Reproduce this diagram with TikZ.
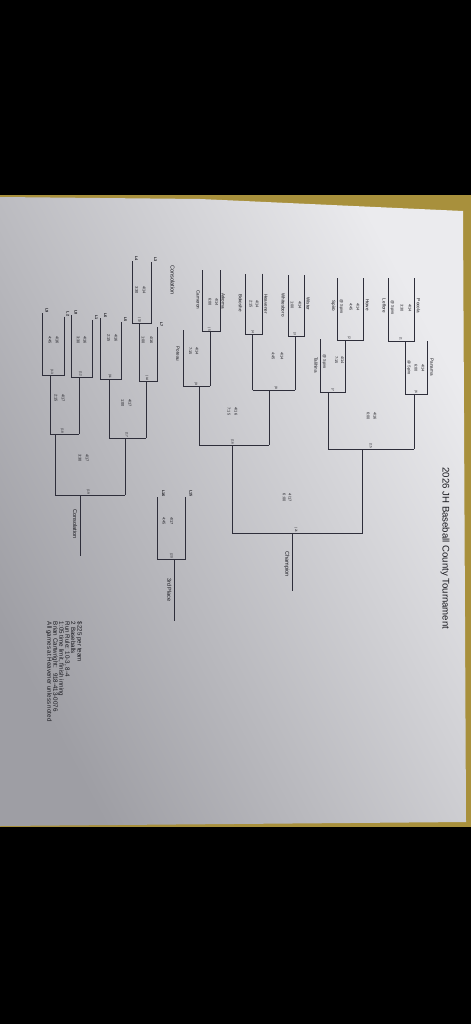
\documentclass[tikz,border=0pt]{standalone}
\usepackage{fontspec}
\setmainfont{Liberation Sans}
\definecolor{linec}{HTML}{2E2E3A}
\definecolor{inkc}{HTML}{18181E}
\definecolor{tanc}{HTML}{A8903C}
\definecolor{paperhi}{HTML}{EBEBEE}
\definecolor{papermid}{HTML}{DADADE}
\definecolor{paperlo}{HTML}{9E9EA4}
\begin{document}
\begin{tikzpicture}[x=1pt,y=-1pt,
  brk/.style={draw=linec, line width=0.85pt},
  team/.style={rotate=-90, inner sep=0pt, text=inkc, font=\fontsize{4.6}{5}\selectfont},
  info/.style={rotate=-90, inner sep=0pt, text=inkc, font=\fontsize{3.9}{4.5}\selectfont},
  gno/.style={rotate=-90, inner sep=0pt, anchor=east, text=inkc, font=\fontsize{3.2}{4}\selectfont},
  lab/.style={rotate=-90, inner sep=0pt, anchor=east, text=inkc, font=\bfseries\fontsize{3.8}{4.5}\selectfont},
  head/.style={rotate=-90, inner sep=0pt, text=inkc, font=\fontsize{5.6}{6}\selectfont},
  note/.style={rotate=-90, inner sep=0pt, anchor=west, text=inkc, font=\fontsize{6.2}{6.5}\selectfont}]
\useasboundingbox (0,0) rectangle (471,1024);
% background and paper
\fill[black] (0,0) rectangle (471,1024);
\fill[tanc] (0,195) rectangle (471,827);
\shade[top color=paperhi, middle color=papermid, bottom color=paperlo, shading angle=-62]
  (0,197) -- (200,199) -- (463,211) -- (466,822) -- (0,826) -- cycle;

% title
\node[rotate=-90, inner sep=0pt, text=inkc, font=\fontsize{9.6}{11}\selectfont] (title) at (445,548.5) {2026 JH Baseball County Tournament};

% ---------- main bracket ----------
% G1
\coordinate (g1a) at (414.3,278); \coordinate (g1b) at (414.3,341);
\coordinate (g1c) at (388.3,341); \coordinate (g1d) at (388.3,278);
\draw[brk] (g1a) -- (g1b) -- (g1c) -- (g1d);
\coordinate (g1o) at (405,341); \coordinate (g6l) at (405,394.5);
\draw[brk] (g1o) -- (g6l);
\node[team] (pocola) at (418.5,306) {Pocola};
\node[info] (g1d1) at (410,308) {4/14};
\node[info] (g1t1) at (402,308) {3:30};
\node[info] (g1s) at (392.5,307.5) {@ Spiro};
\node[team] (leflore) at (384.3,306) {Leflore};
\node[gno] (n1) at (400.7,340.3) {(1};
% G6
\coordinate (g6t) at (427,341); \coordinate (g6r) at (427,394.5);
\draw[brk] (g6t) -- (g6r) -- (g6l);
\coordinate (g6o) at (414.3,394.5); \coordinate (g15r) at (414.3,449);
\draw[brk] (g6o) -- (g15r);
\node[team] (panama) at (432,367) {Panama};
\node[info] (g6d) at (423,368) {4/14};
\node[info] (g6t1) at (416,368) {6:00};
\node[info] (g6s) at (409,368) {@ Spiro};
\node[gno] (n6) at (416,393.8) {(6};
% G2
\coordinate (g2a) at (363.3,278); \coordinate (g2b) at (363.3,340);
\coordinate (g2c) at (337.3,340); \coordinate (g2d) at (337.3,278);
\draw[brk] (g2a) -- (g2b) -- (g2c) -- (g2d);
\coordinate (g2o) at (345.7,340); \coordinate (g7r) at (345.7,392.3);
\draw[brk] (g2o) -- (g7r);
\node[team] (howe) at (367.5,305) {Howe};
\node[info] (g2d1) at (358,307) {4/14};
\node[info] (g2t1) at (351,307) {4:45};
\node[info] (g2s) at (341.5,307) {@ Spiro};
\node[team] (spiro) at (333.3,306) {Spiro};
\node[gno] (n2) at (349.3,339.3) {(2};
% G7
\coordinate (g7t) at (320.7,339); \coordinate (g7l) at (320.7,392.3);
\draw[brk] (g7t) -- (g7l) -- (g7r);
\coordinate (g7o) at (328.3,392.3); \coordinate (g15l) at (328.3,449);
\draw[brk] (g7o) -- (g15l);
\node[info] (g7d) at (342.5,360) {4/14};
\node[info] (g7t1) at (336.5,360) {7:15};
\node[info] (g7s) at (324.5,362) {@ Spiro};
\node[team] (talihina) at (316,365) {Talihina};
\node[gno] (n7) at (332.7,391.6) {(7};
% G15
\draw[brk] (g15l) -- (g15r);
\coordinate (g15o) at (362.7,449); \coordinate (g21r) at (362.7,533.5);
\draw[brk] (g15o) -- (g21r);
\node[info] (g15d) at (375,416) {4/16};
\node[info] (g15t) at (368.3,416) {6:00};
\node[gno] (n15) at (370.7,448.3) {(15};
% G3
\coordinate (g3a) at (304,275); \coordinate (g3b) at (304,336);
\coordinate (g3c) at (288,336); \coordinate (g3d) at (288,275);
\draw[brk] (g3a) -- (g3b) -- (g3c) -- (g3d);
\coordinate (g3o) at (295.3,336); \coordinate (g8r) at (295.3,390.4);
\draw[brk] (g3o) -- (g8r);
\node[team] (wister) at (308.3,304) {Wister};
\node[info] (g3d1) at (300,305) {4/14};
\node[info] (g3t1) at (292.3,305) {1:00};
\node[team] (whitesboro) at (283.3,305) {Whitesboro};
\node[gno] (n3) at (294.7,335.3) {(3};
% G4
\coordinate (g4a) at (262.3,273.5); \coordinate (g4b) at (262.3,334.3);
\coordinate (g4c) at (245.5,334.3); \coordinate (g4d) at (245.5,273.5);
\draw[brk] (g4a) -- (g4b) -- (g4c) -- (g4d);
\coordinate (g4o) at (252.7,334.3); \coordinate (g8l) at (252.7,390.4);
\draw[brk] (g4o) -- (g8l);
\node[team] (heavener) at (266,304) {Heavener};
\node[info] (g4d1) at (257.3,304) {4/14};
\node[info] (g4t1) at (251,304) {2:15};
\node[team] (bokoshe) at (240.5,303) {Bokoshe};
\node[gno] (n4) at (252.7,333.6) {(4};
% G8
\draw[brk] (g8l) -- (g8r);
\coordinate (g8o) at (269,390.4); \coordinate (g16r) at (269,445.3);
\draw[brk] (g8o) -- (g16r);
\node[info] (g8d) at (282,356) {4/14};
\node[info] (g8t) at (273.3,356) {4:45};
\node[gno] (n8) at (276,389.7) {(8};
% G5
\coordinate (g5a) at (220,270); \coordinate (g5b) at (220,331.7);
\coordinate (g5c) at (202.7,331.7); \coordinate (g5d) at (202.7,270);
\draw[brk] (g5a) -- (g5b) -- (g5c) -- (g5d);
\coordinate (g5o) at (210,331.7); \coordinate (g9r) at (210,386);
\draw[brk] (g5o) -- (g9r);
\node[team] (arkoma) at (223.3,301) {Arkoma};
\node[info] (g5d1) at (216.7,302) {4/14};
\node[info] (g5t1) at (210,302) {6:00};
\node[team] (cameron) at (198.3,300) {Cameron};
\node[gno] (n5) at (209.3,331) {(5};
% G9
\coordinate (g9t) at (183,330); \coordinate (g9l) at (183,386);
\draw[brk] (g9t) -- (g9l) -- (g9r);
\coordinate (g9o) at (199,386); \coordinate (g16l) at (199,445.3);
\draw[brk] (g9o) -- (g16l);
\node[info] (g9d) at (197,351) {4/14};
\node[info] (g9t1) at (190.5,351) {7:15};
\node[team] (poteau) at (178,354) {Poteau};
\node[gno] (n9) at (196,385.3) {(9};
% G16
\draw[brk] (g16l) -- (g16r);
\coordinate (g16o) at (232.7,445.3); \coordinate (g21l) at (232.7,533.5);
\draw[brk] (g16o) -- (g21l);
\node[info] (g16d) at (236,411.5) {4/16};
\node[info] (g16t) at (229,411.5) {7:15};
\node[gno] (n16) at (232.5,444.6) {(16};
% G21 championship
\draw[brk] (g21l) -- (g21r);
\coordinate (g21o) at (292.3,533.5); \coordinate (champ) at (292.3,591);
\draw[brk] (g21o) -- (champ);
\node[info] (g21d) at (290,497.7) {4/17};
\node[info] (g21t) at (284.3,497.7) {6:00};
\node[gno] (n21) at (296,532.8) {(21};
\node[head] (champion) at (286.7,564) {Champion};

% ---------- 3rd place ----------
\coordinate (g20a) at (185.5,497); \coordinate (g20b) at (185.5,559.3);
\coordinate (g20c) at (157.5,559.3); \coordinate (g20d) at (157.5,497);
\draw[brk] (g20a) -- (g20b) -- (g20c) -- (g20d);
\coordinate (g20o) at (174,559.3); \coordinate (third) at (174,621);
\draw[brk] (g20o) -- (third);
\node[lab] (l15) at (191,497) {L15};
\node[lab] (l16) at (163.5,497) {L16};
\node[info] (g20d1) at (171.7,521) {4/17};
\node[info] (g20t) at (164,521) {4:45};
\node[gno] (n20) at (171.5,558.6) {(20};
\node[head] (thirdlab) at (169.3,590) {3rd Place};

% ---------- consolation ----------
\node[head] (conshead) at (172.5,280) {Consolation};
% G10
\coordinate (g10a) at (151.5,262); \coordinate (g10b) at (151.5,323.5);
\coordinate (g10c) at (132.3,323.5); \coordinate (g10d) at (132.3,261);
\draw[brk] (g10a) -- (g10b) -- (g10c) -- (g10d);
\coordinate (g10o) at (139.3,323.5); \coordinate (g14l) at (139.3,381.5);
\draw[brk] (g10o) -- (g14l);
\node[lab] (l3) at (155.5,262) {L3};
\node[lab] (l4) at (136.5,261) {L4};
\node[info] (g10d1) at (144.3,290) {4/14};
\node[info] (g10t) at (136.7,290) {3:30};
\node[gno] (n10) at (139.5,322.8) {(10};
% G14
\coordinate (g14t) at (157,327); \coordinate (g14r) at (157,381.5);
\draw[brk] (g14t) -- (g14r) -- (g14l);
\coordinate (g14o) at (146,381.5); \coordinate (g17r) at (146,438);
\draw[brk] (g14o) -- (g17r);
\node[lab] (l7) at (161.5,327) {L7};
\node[info] (g14d) at (151.5,340) {4/16};
\node[info] (g14t1) at (143.3,340) {1:00};
\node[gno] (n14) at (147,380.8) {(14};
% G11
\coordinate (g11a) at (121,322); \coordinate (g11b) at (121,379.5);
\coordinate (g11c) at (100.7,379.5); \coordinate (g11d) at (100.7,318);
\draw[brk] (g11a) -- (g11b) -- (g11c) -- (g11d);
\coordinate (g11o) at (109,379.5); \coordinate (g17l) at (109,438);
\draw[brk] (g11o) -- (g17l);
\node[lab] (l5) at (125.5,322) {L5};
\node[lab] (l6) at (105.5,318) {L6};
\node[info] (g11d1) at (116,338) {4/16};
\node[info] (g11t) at (108.7,338) {2:15};
\node[gno] (n11) at (110,378.8) {(11};
% G17
\draw[brk] (g17l) -- (g17r);
\coordinate (g17o) at (125,438); \coordinate (g19r) at (125,495);
\draw[brk] (g17o) -- (g19r);
\node[info] (g17d) at (130,403) {4/17};
\node[info] (g17t) at (122.7,403) {1:00};
\node[gno] (n17) at (126.7,437.3) {(17};
% G12
\coordinate (g12a) at (92.3,320); \coordinate (g12b) at (92.3,377);
\coordinate (g12c) at (71,377); \coordinate (g12d) at (71,315);
\draw[brk] (g12a) -- (g12b) -- (g12c) -- (g12d);
\coordinate (g12o) at (79.3,377); \coordinate (g18r) at (79.3,434);
\draw[brk] (g12o) -- (g18r);
\node[lab] (l1) at (96.5,320) {L1};
\node[lab] (l8) at (76,315) {L8};
\node[info] (g12d1) at (85,340) {4/16};
\node[info] (g12t) at (78.3,340) {3:30};
\node[gno] (n12) at (80.5,376.3) {(12};
% G13
\coordinate (g13a) at (64,316.5); \coordinate (g13b) at (64,375);
\coordinate (g13c) at (42.7,375); \coordinate (g13d) at (42.7,313);
\draw[brk] (g13a) -- (g13b) -- (g13c) -- (g13d);
\coordinate (g13o) at (50,375); \coordinate (g18l) at (50,434);
\draw[brk] (g13o) -- (g18l);
\node[lab] (l2) at (68,316.5) {L2};
\node[lab] (l9) at (47,313) {L9};
\node[info] (g13d1) at (57.3,340) {4/16};
\node[info] (g13t) at (50,340) {4:45};
\node[gno] (n13) at (52,374.3) {(13};
% G18
\draw[brk] (g18l) -- (g18r);
\coordinate (g18o) at (55,434); \coordinate (g19l) at (55,495);
\draw[brk] (g18o) -- (g19l);
\node[info] (g18d) at (63.3,398) {4/17};
\node[info] (g18t) at (56,398) {2:15};
\node[gno] (n18) at (62.3,433.3) {(18};
% G19
\draw[brk] (g19l) -- (g19r);
\coordinate (g19o) at (80,495); \coordinate (consol) at (80,556);
\draw[brk] (g19o) -- (consol);
\node[info] (g19d) at (87.3,458) {4/17};
\node[info] (g19t) at (80,458) {3:30};
\node[gno] (n19) at (88.3,494.3) {(19};
\node[head] (consollab) at (75,524) {Consolation};

% ---------- notes ----------
\node[note] (note1) at (79.3,621.7) {\$225 per team};
\node[note] (note2) at (73.3,621.7) {2 Baseballs};
\node[note] (note3) at (67.3,621.7) {Run Rule: 10-3, 8-4};
\node[note] (note4) at (61,621.7) {1:05 time limit, finish inning};
\node[note] (note5) at (55,621.7) {Brian Cartwright:\hspace{0.8em}918-413-0076};
\node[note] (note6) at (49,621.7) {All games at Heavener unless noted};
\end{tikzpicture}
\end{document}
